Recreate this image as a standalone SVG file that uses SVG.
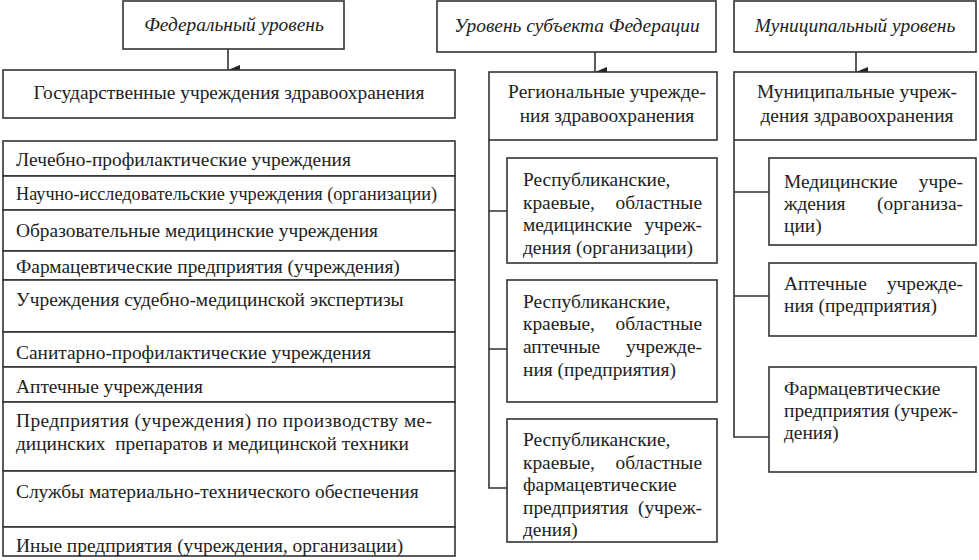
<svg xmlns="http://www.w3.org/2000/svg" width="979" height="560" viewBox="0 0 979 560">
<style>
rect{fill:#fff;stroke:#333;stroke-width:1.6}
text{font-family:"Liberation Serif","Times New Roman",serif;font-size:19.4px;fill:#222}
.h{font-style:italic;text-anchor:middle}
.c{text-anchor:middle}
.e{text-anchor:end}
.ln{fill:none;stroke:#333;stroke-width:1.6}
</style>
<defs>
<marker id="ar" viewBox="0 0 10 12" refX="5" refY="12" markerWidth="10" markerHeight="12" markerUnits="userSpaceOnUse" orient="auto"><path d="M0,0 L10,0 L5,12 Z" fill="#222"/></marker>
</defs>
<rect x="0" y="0" width="979" height="560" style="fill:#fff;stroke:none"/>
<g id="connectors">
<line class="ln" x1="228" y1="49" x2="228" y2="70" marker-end="url(#ar)"/>
<line class="ln" x1="595" y1="52" x2="595" y2="72" marker-end="url(#ar)"/>
<line class="ln" x1="856" y1="52" x2="856" y2="72" marker-end="url(#ar)"/>
<path class="ln" d="M489,140 V488 H507 M489,211 H507 M489,349 H507"/>
<path class="ln" d="M734,140 V437 H769 M734,192 H769 M734,296 H769"/>
</g>
<g id="federal">
<rect x="123" y="1" width="221" height="48"/>
<text class="h" x="234" y="31">Федеральный уровень</text>
</g>
<g id="subject">
<rect x="437" y="1" width="279" height="51"/>
<text class="h" x="577" y="32">Уровень субъекта Федерации</text>
</g>
<g id="municipal">
<rect x="734" y="1" width="242" height="51"/>
<text class="h" x="855" y="32">Муниципальный уровень</text>
</g>
<g id="gov">
<rect x="3" y="70" width="452" height="48"/>
<text class="c" x="229" y="99">Государственные учреждения здравоохранения</text>
</g>
<g id="regional">
<rect x="489" y="72" width="228" height="68"/>
<text class="c" x="607" y="98">Региональные учрежде-</text>
<text class="c" x="607" y="122">ния здравоохранения</text>
</g>
<g id="munic">
<rect x="734" y="72" width="242" height="68"/>
<text class="c" x="857" y="98">Муниципальные учреж-</text>
<text class="c" x="857" y="122">дения здравоохранения</text>
</g>
<g id="list">
<rect x="3" y="141" width="452" height="35"/>
<text x="16" y="166">Лечебно-профилактические учреждения</text>
<rect x="3" y="176" width="452" height="34"/>
<text x="16" y="200" textLength="421" lengthAdjust="spacingAndGlyphs">Научно-исследовательские учреждения (организации)</text>
<rect x="3" y="210" width="452" height="41"/>
<text x="16" y="237">Образовательные медицинские учреждения</text>
<rect x="3" y="251" width="452" height="29"/>
<text x="16" y="273">Фармацевтические предприятия (учреждения)</text>
<rect x="3" y="280" width="452" height="52"/>
<text x="16" y="306">Учреждения судебно-медицинской экспертизы</text>
<rect x="3" y="332" width="452" height="35"/>
<text x="16" y="359">Санитарно-профилактические учреждения</text>
<rect x="3" y="367" width="452" height="35"/>
<text x="16" y="393">Аптечные учреждения</text>
<rect x="3" y="402" width="452" height="69"/>
<text x="16" y="427" textLength="416" lengthAdjust="spacing">Предприятия (учреждения) по производству ме-</text>
<text x="16" y="450" xml:space="preserve">дицинских  препаратов и медицинской техники</text>
<rect x="3" y="471" width="452" height="56"/>
<text x="16" y="498">Службы материально-технического обеспечения</text>
<rect x="3" y="527" width="452" height="29"/>
<text x="16" y="552">Иные предприятия (учреждения, организации)</text>
</g>
<g id="reg1">
<rect x="507" y="158" width="210" height="105"/>
<text x="523" y="186">Республиканские,</text>
<text x="523" y="209">краевые,</text><text class="e" x="702" y="209">областные</text>
<text x="523" y="231">медицинские</text><text class="e" x="702" y="231">учреж-</text>
<text x="523" y="254">дения (организации)</text>
</g>
<g id="reg2">
<rect x="507" y="280" width="210" height="122"/>
<text x="523" y="308">Республиканские,</text>
<text x="523" y="330">краевые,</text><text class="e" x="702" y="330">областные</text>
<text x="523" y="353">аптечные</text><text class="e" x="702" y="353">учрежде-</text>
<text x="523" y="376">ния (предприятия)</text>
</g>
<g id="reg3">
<rect x="507" y="419" width="210" height="123"/>
<text x="523" y="446">Республиканские,</text>
<text x="523" y="469">краевые,</text><text class="e" x="702" y="469">областные</text>
<text x="523" y="491">фармацевтические</text>
<text x="523" y="514">предприятия</text><text class="e" x="702" y="514">(учреж-</text>
<text x="523" y="536">дения)</text>
</g>
<g id="mun1">
<rect x="769" y="158" width="207" height="87"/>
<text x="784" y="188">Медицинские</text><text class="e" x="963" y="188">учре-</text>
<text x="784" y="210">ждения</text><text class="e" x="963" y="210">(организа-</text>
<text x="784" y="232">ции)</text>
</g>
<g id="mun2">
<rect x="769" y="263" width="207" height="73"/>
<text x="784" y="290">Аптечные</text><text class="e" x="963" y="290">учрежде-</text>
<text x="784" y="312">ния (предприятия)</text>
</g>
<g id="mun3">
<rect x="769" y="367" width="207" height="105"/>
<text x="784" y="395">Фармацевтические</text>
<text x="784" y="417">предприятия</text><text class="e" x="958" y="417">(учреж-</text>
<text x="784" y="439">дения)</text>
</g>
</svg>
